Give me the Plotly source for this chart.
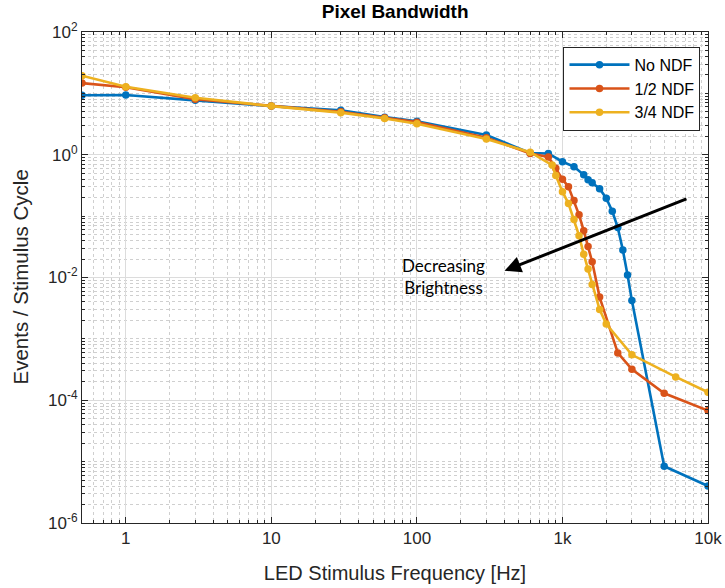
import numpy as np
import plotly.graph_objects as go

# ---- data ----
freq_no = [0.5, 1, 3, 10, 30, 60, 100, 300, 600, 800, 1000, 1200, 1400, 1500, 1600,
           1800, 2000, 2200, 2400, 2600, 2800, 3000, 5000, 10000]
val_no = [9.3, 9.4, 7.7, 6.2, 5.3, 4.1, 3.5, 2.1, 1.07, 1.05, 0.77, 0.64, 0.47, 0.39,
          0.35, 0.28, 0.196, 0.12, 0.065, 0.028, 0.011, 0.0042, 8.4e-6, 4.0e-6]

freq_half = [0.5, 1, 3, 10, 30, 60, 100, 300, 600, 800, 900, 1000, 1100, 1200, 1300,
             1400, 1500, 1600, 1800, 2400, 3000, 5000, 10000]
val_half = [14.7, 12.6, 8.0, 6.2, 5.0, 4.0, 3.4, 1.9, 1.05, 0.92, 0.6, 0.40, 0.30, 0.18,
            0.105, 0.058, 0.032, 0.018, 0.0048, 5.9e-4, 3.2e-4, 1.3e-4, 6.8e-5]

freq_34 = [0.5, 1, 3, 10, 30, 60, 100, 300, 600, 850, 900, 1000, 1100, 1200, 1300,
           1400, 1500, 1600, 1800, 2000, 3000, 6000, 10000]
val_34 = [19.4, 12.8, 8.5, 6.2, 4.85, 3.9, 3.2, 1.8, 1.1, 0.68, 0.46, 0.25, 0.16, 0.088,
          0.048, 0.024, 0.0138, 0.0077, 0.003, 0.00175, 5.5e-4, 2.4e-4, 1.35e-4]

series_names = ["No NDF", "1/2 NDF", "3/4 NDF"]
series_colors = ["#0072BD", "#D95319", "#EDB120"]

x_tickvals = [1, 10, 100, 1000, 10000]
x_ticktext = ["1", "10", "100", "1k", "10k"]
y_tickvals = [1e-6, 1e-4, 1e-2, 1, 1e2]
y_ticktext = ["10<sup>-6</sup>", "10<sup>-4</sup>", "10<sup>-2</sup>", "10<sup>0</sup>", "10<sup>2</sup>"]

title_text = "Pixel Bandwidth"
x_title = "LED Stimulus Frequency [Hz]"
y_title = "Events / Stimulus Cycle"
note_text = "Decreasing<br>Brightness"

# minor grid positions (1..9 x 10^k)
x_minor = [m * 10.0 ** k for k in range(-1, 4) for m in range(1, 10)]
x_minor = [v for v in x_minor if 0.5 <= v <= 10000]
y_minor = [m * 10.0 ** k for k in range(-6, 2) for m in range(1, 10)] + [100]

fig = go.Figure()
for fx, fy, nm, col in zip([freq_no, freq_half, freq_34], [val_no, val_half, val_34],
                           series_names, series_colors):
    fig.add_trace(go.Scatter(x=fx, y=fy, mode="lines+markers", name=nm,
                             line=dict(color=col, width=2.6),
                             marker=dict(color=col, size=7.5)))

font_main = "Liberation Sans, Arial, sans-serif"
axis_common = dict(
    type="log", showline=True, linecolor="#262626", linewidth=1, mirror="ticks",
    ticks="inside", ticklen=6, tickcolor="#262626", automargin=False,
    showgrid=True, gridcolor="#dcdcdc", gridwidth=1, zeroline=False,
    tickfont=dict(family=font_main, size=17, color="#262626"),
)

fig.update_xaxes(
    **axis_common,
    range=[np.log10(0.5), 4],
    tickmode="array", tickvals=x_tickvals, ticktext=x_ticktext,
    minor=dict(tickmode="array", tickvals=x_minor, ticks="inside", ticklen=3,
               tickcolor="#262626", showgrid=True, gridcolor="#cfcfcf", griddash="dot"),
    title=dict(text=x_title, font=dict(family=font_main, size=20, color="#262626"), standoff=18),
)
fig.update_yaxes(
    **axis_common,
    range=[-6, 2],
    tickmode="array", tickvals=y_tickvals, ticktext=y_ticktext,
    minor=dict(tickmode="array", tickvals=y_minor, ticks="inside", ticklen=3,
               tickcolor="#262626", showgrid=True, gridcolor="#cfcfcf", griddash="dot"),
)

# y-axis title placed as a rotated text at the left edge
fig.add_annotation(x=-0.099, y=0.5, xref="paper", yref="paper", text=y_title,
                   textangle=-90, showarrow=False, xanchor="center", yanchor="middle",
                   font=dict(family=font_main, size=20.5, color="#262626"))

# arrow (log coordinates on log axes)
fig.add_annotation(x=np.log10(400), y=-1.89, ax=np.log10(7280), ay=-0.71,
                   xref="x", yref="y", axref="x", ayref="y",
                   text="", showarrow=True, arrowhead=2, arrowsize=1.1,
                   arrowwidth=3, arrowcolor="black")
fig.add_annotation(x=np.log10(153), y=-1.99, xref="x", yref="y", text=note_text,
                   showarrow=False, font=dict(family="Lato, Open Sans, sans-serif", size=17, color="black"),
                   align="center", xanchor="center", yanchor="middle")

fig.update_layout(
    width=725, height=588,
    margin=dict(l=82, r=17, t=32, b=65),
    paper_bgcolor="white", plot_bgcolor="white",
    title=dict(text="<b>" + title_text + "</b>", x=0.545, xanchor="center", y=0.98, yanchor="middle",
               font=dict(family=font_main, size=19, color="black")),
    legend=dict(x=0.988, y=0.97, xanchor="right", yanchor="top",
                bgcolor="white", bordercolor="#262626", borderwidth=1,
                font=dict(family=font_main, size=16, color="black"),
                tracegroupgap=2, itemwidth=60),
    showlegend=True,
)

fig.write_html("out.html")
